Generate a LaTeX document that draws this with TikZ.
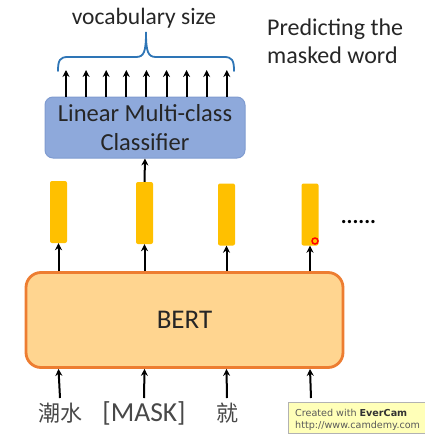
\documentclass[tikz,border=0pt]{standalone}
\usepackage{fontspec}
\setmainfont{Carlito}
\newfontfamily\cjk{Noto Sans CJK SC}
\newfontfamily\wmfont{DejaVu Sans}
\usetikzlibrary{arrows.meta}
\definecolor{txt}{HTML}{262626}
\definecolor{lbl}{HTML}{484848}
\definecolor{clsfill}{HTML}{8EA9DB}
\definecolor{clsdraw}{HTML}{7F9BD0}
\definecolor{bertfill}{HTML}{FFD590}
\definecolor{bertdraw}{HTML}{ED7D31}
\definecolor{barfill}{HTML}{FFC000}
\definecolor{bracecol}{HTML}{2E75B6}
\definecolor{wmfill}{HTML}{FFFFB8}
\tikzset{
  arr/.style={draw=black, line width=2pt, -{Stealth[length=7pt,width=7pt]}},
  bar/.style={fill=barfill, draw=none, rounded corners=2pt, minimum width=17pt, minimum height=62pt, inner sep=0pt},
  lab/.style={text=lbl, inner sep=0pt, anchor=base},
}
\begin{document}
\begin{tikzpicture}[x=1pt,y=-1pt]
\useasboundingbox (0,0) rectangle (425,434);
% top text
\node[text=txt, font=\fontsize{23.5}{26}\selectfont, inner sep=0pt, anchor=base] (vocab) at (144,24) {vocabulary size};
\node[text=txt, font=\fontsize{24}{28}\selectfont, align=left, anchor=north west, inner sep=0pt] (pred) at (267,19) {Predicting the\\masked word};
% brace
\draw[bracecol, line width=1.8pt, line cap=round]
  (58,71) .. controls (58,60) and (60,57) .. (68,57) -- (136,57)
  .. controls (144,57) and (146,52) .. (146,32)
  .. controls (146,52) and (148,57) .. (156,57) -- (224,57)
  .. controls (232,57) and (234,60) .. (234,71);
% classifier
\node[fill=clsfill, draw=clsdraw, line width=1pt, rounded corners=8pt, minimum width=200pt, minimum height=61pt, inner sep=0pt,
  align=center, text=txt, font=\fontsize{24.5}{29}\selectfont] (cls) at (145,127.5) {Linear Multi-class\\Classifier};
\foreach \i [evaluate=\i as \xx using 66+20.1*\i] in {0,...,8}{
  \coordinate (t\i) at (\xx,70);
  \draw[arr] (cls.north -| t\i) -- (t\i);
}
% bars
\node[bar] (b1) at (58.5,212) {};
\node[bar] (b2) at (144.5,213) {};
\node[bar] (b3) at (226.5,214.5) {};
\node[bar] (b4) at (310,214.5) {};
\node[text=black, font=\bfseries\fontsize{22}{22}\selectfont, inner sep=0pt, anchor=base] (dots) at (358.5,223) {......};
\draw[arr] (b2.north) -- (cls.south);
% BERT
\node[fill=bertfill, draw=bertdraw, line width=2.8pt, rounded corners=15pt, minimum width=317pt, minimum height=95pt, inner sep=0pt,
  text=txt, font=\fontsize{27}{27}\selectfont] (bert) at (184.5,320) {BERT};
\foreach \b in {1,...,4}{
  \draw[arr] (bert.north -| b\b) -- (b\b.south);
}
% red cursor mark
\node[circle, draw=red, line width=1.5pt, minimum size=6pt, inner sep=0pt] (cur) at (315,241) {};
% inputs
\node[lab, font=\cjk\fontsize{22}{22}\selectfont] (w1) at (60,421) {潮水};
\node[lab, font=\fontsize{27.5}{27}\selectfont] (w2) at (144,421) {[MASK]};
\node[lab, font=\cjk\fontsize{22}{22}\selectfont] (w3) at (227,421) {就};
\coordinate (w4) at (311,398);
\draw[arr] (60,398) -- (bert.south -| b1);
\draw[arr] (144,398) -- (bert.south -| b2);
\draw[arr] (227,398) -- (bert.south -| b3);
\draw[arr] (w4) -- (bert.south -| b4);
% watermark
\begin{scope}
\clip (0,0) rectangle (425,434);
\node[fill=wmfill, draw=gray!60, line width=0.8pt, anchor=north west, minimum width=150pt, minimum height=31pt, inner sep=0pt] (wm) at (288,402) {};
\node[anchor=base west, inner sep=0pt, font=\wmfont\fontsize{9.6}{10}\selectfont, text=gray!70!black] (wmt1) at (295,416.5) {Created with \textbf{\color{black!80}EverCam}};
\node[anchor=base west, inner sep=0pt, font=\wmfont\fontsize{9.6}{10}\selectfont, text=gray!70!black] (wmt2) at (295,428) {http://www.camdemy.com};
\end{scope}
\end{tikzpicture}
\end{document}
